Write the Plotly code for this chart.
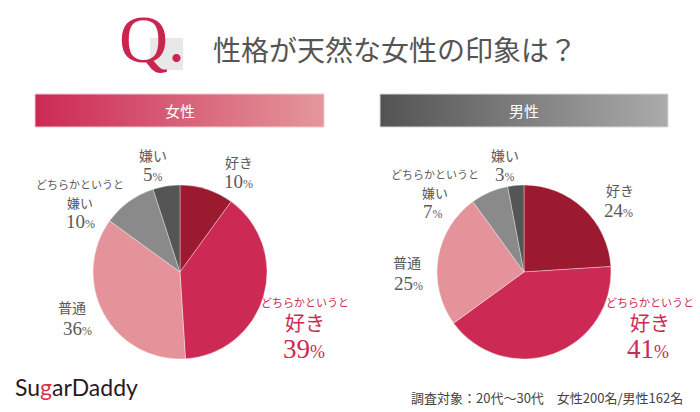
import plotly.graph_objects as go

W, H = 700, 412

categories = ["好き", "どちらかというと好き", "普通", "どちらかというと嫌い", "嫌い"]
female_values = [10, 39, 36, 10, 5]
male_values = [24, 41, 25, 7, 3]
slice_colors = ["#9b1a2f", "#cc2954", "#e5939a", "#8a8a8a", "#555555"]
panel_titles = ["女性", "男性"]
title_text = "性格が天然な女性の印象は？"
footer_text = "調査対象：20代～30代　女性200名/男性162名"

GRAY = "#5a5a5a"
PINK = "#cc2954"
SERIF = "Liberation Serif, DejaVu Serif, serif"
SANS = "Noto Sans CJK JP, Noto Sans, sans-serif"


def px(x):
    return x / W


def py(y):
    return 1 - y / H


fig = go.Figure()

# hidden pixel-space axes for decorative header bars
fig.update_xaxes(range=[0, W], visible=False, fixedrange=True)
fig.update_yaxes(range=[H, 0], visible=False, fixedrange=True)

bars = [
    (35, 324, ["#cc2954", "#e4979c"], "#f3c7cf"),
    (380, 668, ["#535353", "#ababab"], "#d8d8d8"),
]
for (x0, x1, cs, lc) in bars:
    fig.add_trace(go.Scatter(
        x=[x0, x1, x1, x0, x0], y=[94, 94, 127, 127, 94],
        mode="lines", fill="toself",
        line=dict(color=lc, width=1),
        fillgradient=dict(type="horizontal", colorscale=[[0, cs[0]], [1, cs[1]]]),
        hoverinfo="skip", showlegend=False,
    ))

# pies
centers = [180, 524]
for vals, cx in zip([female_values, male_values], centers):
    fig.add_trace(go.Pie(
        labels=categories, values=vals, sort=False, direction="clockwise",
        rotation=0, textinfo="none", hoverinfo="skip", showlegend=False,
        marker=dict(colors=slice_colors, line=dict(color="rgba(255,255,255,0.6)", width=0.6)),
        domain=dict(x=[px(cx - 87), px(cx + 87)], y=[py(359), py(185)]),
    ))

ann = []


def text(x, y, s, size, color=GRAY, family=SANS):
    ann.append(dict(x=px(x), y=py(y), xref="paper", yref="paper", text=s,
                    showarrow=False, xanchor="center", yanchor="middle",
                    font=dict(size=size, color=color, family=family)))


def pct(v, size, color=GRAY):
    return f"{v}<span style='font-size:{int(size*0.68)}px'>%</span>"


# Title
fig.add_shape(type="rect", xref="paper", yref="paper", x0=px(150), x1=px(183),
              y0=py(70), y1=py(38), fillcolor="#e8e8e8", line=dict(width=0), layer="below")
text(143, 39, "Q", 68, "#c8264f", SERIF)
text(176, 58, "●", 9, "#c8264f", SANS)
text(395, 49, title_text, 28, "#555555", SANS)

# Panel headers
text(180, 110, panel_titles[0], 15, "white")
text(524, 110, panel_titles[1], 15, "white")

# Female labels
f = female_values
text(239, 162, categories[0], 14)
text(238, 181, pct(f[0], 19), 19, GRAY, SERIF)
text(153, 155, categories[4], 14)
text(153, 174, pct(f[4], 19), 19, GRAY, SERIF)
text(80, 184, "どちらかというと", 11)
text(80, 202, "嫌い", 13)
text(80, 221, pct(f[3], 19), 19, GRAY, SERIF)
text(72, 307, categories[2], 14)
text(77, 328, pct(f[2], 19), 19, GRAY, SERIF)
text(305, 302, "どちらかというと", 11, PINK)
text(305, 322, "好き", 20, PINK)
text(304, 349, pct(f[1], 27), 27, PINK, SERIF)

# Male labels
m = male_values
text(505, 155, categories[4], 14)
text(505, 174, pct(m[4], 19), 19, GRAY, SERIF)
text(435, 174, "どちらかというと", 11)
text(435, 192, "嫌い", 13)
text(433, 211, pct(m[3], 19), 19, GRAY, SERIF)
text(620, 190, categories[0], 14)
text(618, 210, pct(m[0], 19), 19, GRAY, SERIF)
text(407, 262, categories[2], 14)
text(408, 283, pct(m[2], 19), 19, GRAY, SERIF)
text(650, 302, "どちらかというと", 11, PINK)
text(650, 322, "好き", 20, PINK)
text(648, 349, pct(m[1], 27), 27, PINK, SERIF)

# Logo and footer
ann.append(dict(x=px(13), y=py(387), xref="paper", yref="paper", showarrow=False,
                xanchor="left", yanchor="middle",
                text="Su<span style='color:#e0304e'>g</span>arDaddy",
                font=dict(size=23, color="#2b1a22", family="Lato, Open Sans, sans-serif")))
ann.append(dict(x=px(685), y=py(397), xref="paper", yref="paper", showarrow=False,
                xanchor="right", yanchor="middle", text=footer_text,
                font=dict(size=13, color="#444444", family=SANS)))

fig.update_layout(
    width=W, height=H, margin=dict(l=0, r=0, t=0, b=0),
    paper_bgcolor="white", plot_bgcolor="white",
    annotations=ann, showlegend=False,
)

fig.write_html("out.html")
